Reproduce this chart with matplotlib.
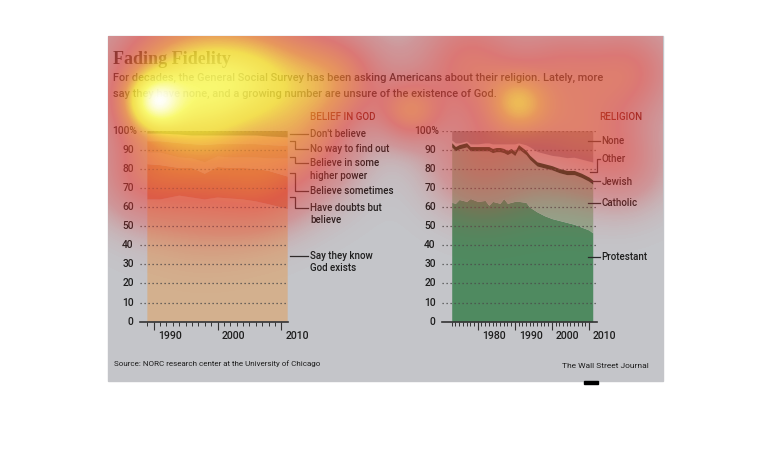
import numpy as np
import matplotlib.pyplot as plt
from matplotlib.colors import LinearSegmentedColormap
from matplotlib.patches import Rectangle
from matplotlib.transforms import offset_copy

# ---- data: belief in God (share of respondents, %) ----
years_l = [1989, 1991, 1994, 1996, 1998, 2000, 2002, 2004, 2006, 2008, 2011]
know = [64, 64, 66, 65, 64, 65, 64.5, 64, 63, 61.5, 59]
doubts = [18.5, 18, 14.5, 15.5, 13.5, 16, 16, 16.5, 17, 17.5, 17]
sometimes = [6, 6.5, 5.5, 5, 6, 5.5, 5.5, 5.5, 6, 6.5, 9.5]
higher_power = [6, 6, 7.5, 7.5, 9, 6.5, 7, 7, 7, 7, 6.5]
no_way = [4, 4, 4.5, 4.5, 5, 4.5, 4.5, 4.5, 4.5, 4.5, 4.5]
dont_believe = [1.5, 1.5, 2, 2.5, 2.5, 2.5, 2.5, 2.5, 2.5, 3, 3.5]

# ---- data: religion (%) ----
years_r = [1973, 1974, 1975, 1977, 1978, 1980, 1982, 1983, 1984, 1985, 1986, 1987, 1988,
           1989, 1990, 1991, 1993, 1994, 1996, 1998, 2000, 2002, 2004, 2006, 2008, 2010, 2011]
protestant = [62.5, 62, 64, 63, 64.5, 63, 63.5, 61, 63, 62.5, 62, 64.5, 62,
              62.5, 63, 63, 62.5, 60, 57.5, 55.5, 54, 53, 52, 51, 49.5, 48, 46.5]
catholic = [29, 27.5, 26.5, 28.5, 25, 26.5, 26, 28.5, 25.5, 26.5, 27, 24, 25.5,
            26, 24, 27.5, 25, 25, 24, 25, 25.5, 25, 25, 26, 26, 25.5, 25.5]
jewish = [2.2, 2.2, 2.2, 2.2, 2.2, 2.2, 2.2, 2.2, 2.2, 2.2, 2.2, 2.2, 2.2,
          2.2, 2.2, 2.2, 2.2, 2.2, 2.2, 2.2, 2.2, 2.2, 2.2, 2.2, 2.2, 2.2, 2.2]
other = [1.4, 1.9, 0.9, 0.9, 1.4, 1.4, 1.9, 1.9, 2.4, 1.9, 1.9, 2.4, 3.4,
         2.4, 3.9, 0.9, 2.9, 4.4, 5.4, 5.4, 5.4, 6.4, 6.7, 6.9, 7.4, 8.4, 9.4]

# eye-tracking overlay: (x px, y px, spread px, weight)
heat_spots = [
    (152, 102, 20, 1.1), (190, 90, 55, 2.0), (270, 75, 45, 1.1), (205, 185, 38, 0.5),
    (140, 182, 30, 0.5), (262, 190, 30, 0.5), (305, 150, 35, 0.75), (340, 80, 35, 0.9),
    (410, 112, 22, 0.9), (470, 65, 40, 0.9), (518, 103, 22, 0.9), (480, 160, 35, 0.65),
    (570, 130, 40, 0.85), (630, 70, 35, 0.8), (625, 165, 30, 0.5), (560, 60, 30, 0.5),
]

W, H = 770, 476
SANS = 'Roboto'
WT = 500
BG = '#c4c5c9'
INK = '#1e1e1e'


def fx(px):
    return px / W


def fy(py):
    return 1 - py / H


fig = plt.figure(figsize=(W / 100, H / 100), dpi=100)
fig.patches.append(Rectangle((fx(108), fy(381)), fx(663) - fx(108), fy(36) - fy(381),
                             transform=fig.transFigure, color=BG, zorder=-5))
fig.patches.append(Rectangle((fx(584), fy(384)), fx(14), fy(0) - fy(3),
                             transform=fig.transFigure, color='black', zorder=-5))

fig.text(fx(113), fy(60), 'Fading Fidelity', family='Liberation Serif', weight='bold',
         size=13, color='#3b3530', va='center')
fig.text(fx(113), fy(78), 'For decades, the General Social Survey has been asking Americans '
         'about their religion. Lately, more', family=SANS, weight=WT, size=7.9,
         color='#2a2a2a', va='center')
fig.text(fx(113), fy(94), 'say they have none, and a growing number are unsure of the existence of God.',
         family=SANS, weight=WT, size=7.9, color='#2a2a2a', va='center')
fig.text(fx(114), fy(364), 'Source: NORC research center at the University of Chicago',
         family=SANS, size=5.8, color=INK, va='center')
fig.text(fx(649), fy(366), 'The Wall Street Journal', family=SANS, size=6.0,
         color=INK, va='center', ha='right')


def setup_axis(ax, xlim, first_minor):
    ax.set_xlim(*xlim)
    ax.set_ylim(0, 100)
    ax.patch.set_visible(False)
    for s in ['left', 'right', 'top']:
        ax.spines[s].set_visible(False)
    ax.spines['bottom'].set_color('#333333')
    ax.spines['bottom'].set_linewidth(1.2)
    ax.set_yticks([])
    ax.set_xticks([1980, 1990, 2000, 2010] if xlim[0] < 1980 else [1990, 2000, 2010])
    ax.set_xticks(list(range(first_minor, 2011)), minor=True)
    ax.tick_params(axis='x', which='major', length=5.8, width=0.8, color='#333333', labelbottom=False)
    ax.tick_params(axis='x', which='minor', length=2.9, width=0.7, color='#333333')
    for v in range(10, 101, 10):
        ax.axhline(v, color='#4a4a4a', lw=0.9, ls=(0, (1, 2.2)), zorder=3)
    ytr = ax.get_yaxis_transform()
    for v in range(0, 101, 10):
        lab = '100%' if v == 100 else str(v)
        off = -2.5 if v == 100 else -6
        ax.text(0, v, lab, transform=offset_copy(ytr, fig=fig, x=off, units='dots'),
                ha='right', va='center', family=SANS, weight=WT, size=7.4, color=INK)
    xtr = offset_copy(ax.get_xaxis_transform(), fig=fig, x=4, y=-14, units='dots')
    for t in ax.get_xticks():
        ax.text(t, 0, str(int(t)), transform=xtr, ha='left', va='center',
                family=SANS, weight=WT, size=7.6, color=INK)


def leader(ax, pts, label_lines, text_x, text_y, size=7.0):
    tr = ax.get_yaxis_transform()
    xs, ys = zip(*pts)
    ax.plot(xs, ys, color='#2a2a2a', lw=0.9, transform=tr, clip_on=False, zorder=5)
    for i, line in enumerate(label_lines):
        ax.text(text_x, text_y - i * 6.4, line, transform=tr, ha='left', va='center',
                family=SANS, weight=WT, size=size, color=INK, clip_on=False)


# ---- left panel ----
axL = fig.add_axes([fx(139.7), fy(321.7), (288 - 139.7) / W, 191 / H])
axL.stackplot(years_l, know, doubts, sometimes, higher_power, no_way, dont_believe,
              colors=['#d3b08e', '#c8845c', '#d7b192', '#c99d78', '#d9bb9c', '#6f6a48'],
              lw=0, zorder=1)
setup_axis(axL, (1987.8, 2011.05), 1989)
axL.text(1.148, 107.2, 'BELIEF IN GOD', transform=axL.get_yaxis_transform(), ha='left',
         va='center', family=SANS, weight=WT, size=7.1, color='#6e1f18', clip_on=False)
lx0, lx1, lx2, tx = 1.0135, 1.045, 1.137, 1.148
leader(axL, [(lx0, 98.3), (lx2, 98.3)], ["Don't believe"], tx, 98.3)
leader(axL, [(lx0, 94.4), (lx1, 94.4), (lx1, 90.6), (lx2, 90.6)], ['No way to find out'], tx, 90.6)
leader(axL, [(lx0, 86.4), (lx1, 86.4), (lx1, 82.9), (lx2, 82.9)], ['Believe in some', 'higher power'], tx, 82.9)
leader(axL, [(lx0, 77.7), (lx1, 77.7), (lx1, 68.6), (lx2, 68.6)], ['Believe sometimes'], tx, 68.6)
leader(axL, [(lx0, 65.1), (lx1, 65.1), (lx1, 59.4), (lx2, 59.4)], ['Have doubts but', 'believe'], tx, 59.4)
leader(axL, [(lx0, 34.4), (lx2, 34.4)], ['Say they know', 'God exists'], tx, 34.4)

# ---- right panel ----
axR = fig.add_axes([fx(441.7), fy(321.7), 155 / W, 191 / H])
prot = np.array(protestant)
cath_top = prot + np.array(catholic)
jew_top = cath_top + np.array(jewish)
oth_top = jew_top + np.array(other)
axR.fill_between(years_r, 0, prot, color='#4f8a60', lw=0, zorder=1)
axR.fill_between(years_r, prot, cath_top, color='#8fa98f', lw=0, zorder=1)
axR.fill_between(years_r, cath_top, jew_top, color='#0a3a18', lw=0, zorder=2)
axR.fill_between(years_r, jew_top, oth_top, color='#c9c3bd', lw=0, zorder=1)
axR.fill_between(years_r, oth_top, 100, color='#8f8a8c', lw=0, zorder=1)
setup_axis(axR, (1970.3, 2012.07), 1973)
axR.text(1.015, 107.2, 'RELIGION', transform=axR.get_yaxis_transform(), ha='left',
         va='center', family=SANS, weight=WT, size=7.1, color='#6e1f18', clip_on=False)
rx0, rx1, rx2, rtx = 0.944, 1.004, 1.021, 1.032
leader(axR, [(rx0, 94.8), (rx2, 94.8)], ['None'], rtx, 94.8)
leader(axR, [(0.957, 78.5), (rx1, 78.5), (rx1, 85.0), (rx2, 85.0)], ['Other'], rtx, 85.2)
leader(axR, [(0.957, 73.7), (rx2, 73.7)], ['Jewish'], rtx, 73.4)
leader(axR, [(rx0, 62.3), (rx2, 62.3)], ['Catholic'], rtx, 62.3)
leader(axR, [(rx0, 34.0), (rx2, 34.0)], ['Protestant'], rtx, 34.0)

# ---- heat-map overlay ----
heat_cmap = LinearSegmentedColormap.from_list('heat', [
    (0.0, (0.88, 0.22, 0.22, 0.0)),
    (0.12, (0.90, 0.22, 0.22, 0.33)),
    (0.3, (0.93, 0.25, 0.22, 0.58)),
    (0.5, (0.97, 0.52, 0.18, 0.7)),
    (0.66, (1.0, 0.9, 0.2, 0.8)),
    (0.84, (1.0, 1.0, 0.4, 0.9)),
    (1.0, (1.0, 1.0, 1.0, 1.0)),
])
xx, yy = np.meshgrid(np.arange(W) + 0.5, np.arange(H) + 0.5)
dens = np.zeros((H, W))
for cx, cy, s, w in heat_spots:
    dens += w * np.exp(-((xx - cx) ** 2 + (yy - cy) ** 2) / (2 * s * s))
rgba = heat_cmap(np.clip(dens / 2.8, 0, 1))
inside = (xx >= 108) & (xx <= 663) & (yy >= 36) & (yy <= 381)
rgba[~inside, 3] = 0
axH = fig.add_axes([0, 0, 1, 1], zorder=20)
axH.imshow(rgba, extent=(0, W, H, 0), interpolation='bilinear', aspect='auto')
axH.set_xlim(0, W)
axH.set_ylim(H, 0)
axH.axis('off')

fig.savefig('out.png', dpi=100)
